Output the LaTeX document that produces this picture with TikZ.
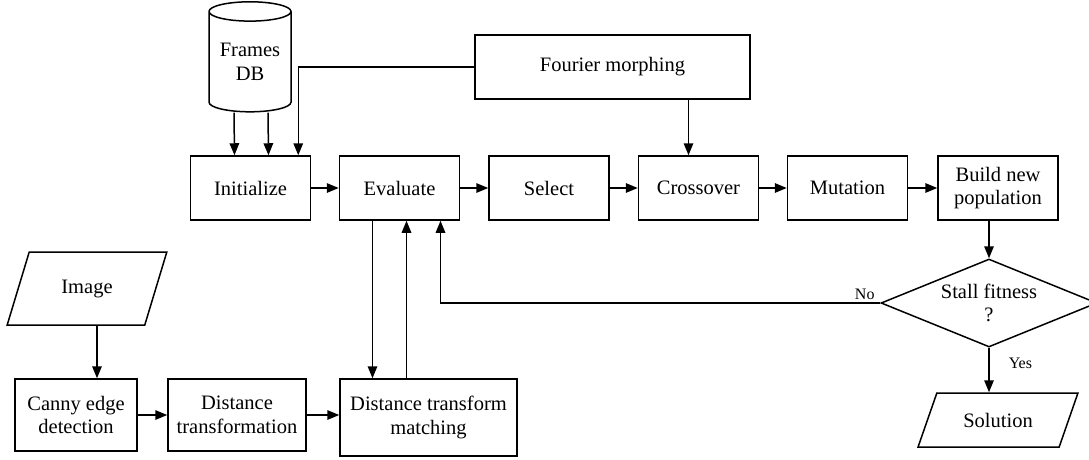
\documentclass[tikz,border=0pt]{standalone}
\usepackage{fontspec}
\setmainfont{Liberation Serif}
\usetikzlibrary{arrows.meta,shapes.geometric,positioning}

\begin{document}
\begin{tikzpicture}[x=1pt,y=-1pt,line width=1.5pt,
  every node/.style={font=\fontsize{20.5}{23.5}\selectfont,align=center},
  box/.style={draw,rectangle,minimum width=120pt,minimum height=64pt,inner sep=2pt},
  io/.style={draw,trapezium,trapezium stretches=true,inner sep=0pt},
  lbl/.style={font=\fontsize{16}{18}\selectfont,inner sep=0pt},
  arr/.style={-{Triangle[length=12pt,width=9.5pt]}}]
  \useasboundingbox (0,0) rectangle (1089,459);
  % genetic loop
  \node[draw,cylinder,shape border rotate=90,aspect=0.32,minimum width=82pt,
    minimum height=110pt,inner sep=0pt] (db) at (250,62) {Frames\\DB};
  \node[box,minimum width=275pt] (fourier) at (612.5,67) {Fourier morphing};
  \node[box] (init) at (250.5,188) {Initialize};
  \node[box] (eval) at (399.5,188) {Evaluate};
  \node[box] (select) at (549,188) {Select};
  \node[box] (cross) at (698.5,188) {Crossover};
  \node[box] (mut) at (847.5,188) {Mutation};
  \node[box] (build) at (998,188) {Build new\\population};
  \node[draw,diamond,shape aspect=2.45,minimum width=216pt,minimum height=88pt,
    inner sep=0pt] (stall) at (989,303) {Stall fitness\\?};
  \node[io,trapezium left angle=53.5,trapezium right angle=126.5,
    minimum width=160pt,minimum height=54pt] (sol) at (998,420) {Solution};
  % image side
  \node[io,trapezium left angle=61.3,trapezium right angle=118.7,
    minimum width=160pt,minimum height=73pt] (img) at (87,288.5) {Image};
  \node[box,minimum width=122pt,minimum height=72pt] (canny) at (76,415) {Canny edge\\detection};
  \node[box,minimum width=138pt,minimum height=72pt] (dt) at (237,415) {Distance\\transformation};
  \node[box,minimum width=177pt,minimum height=77pt] (dtm) at (428.5,417.5) {Distance transform\\matching};
  % connectors
  \draw[arr] ([xshift=-16pt]db.south) -- ([xshift=-16pt]init.north);
  \draw[arr] ([xshift=18pt]db.south) -- ([xshift=18pt]init.north);
  \draw[arr] (fourier.west) -| ([xshift=-13pt]init.north east);
  \draw[arr] ([xshift=-10pt]cross.north |- fourier.south) -- ([xshift=-10pt]cross.north);
  \foreach \from/\to in {init/eval,eval/select,select/cross,cross/mut,mut/build}
    \draw[arr] (\from) -- (\to);
  \draw[arr] (build.south -| stall.north) -- (stall.north);
  \draw[arr] (stall.west) -| ([xshift=41pt]eval.south);
  \node[lbl,above left=3pt and 5pt of stall.west] (no) {No};
  \draw[arr] (stall.south) -- (stall.south |- sol.north)
    node[lbl,pos=0.35,right=19pt] (yes) {Yes};
  \draw[arr] ([xshift=21pt]canny.north |- img.south) -- ([xshift=21pt]canny.north);
  \draw[arr] (canny) -- (dt);
  \draw[arr] (dt.east) -- (dt.east -| dtm.west);
  \draw[arr] ([xshift=-27pt]eval.south) -- ([xshift=-27pt]eval.south |- dtm.north);
  \draw[arr] ([xshift=7pt]eval.south |- dtm.north) -- ([xshift=7pt]eval.south);
\end{tikzpicture}
\end{document}
